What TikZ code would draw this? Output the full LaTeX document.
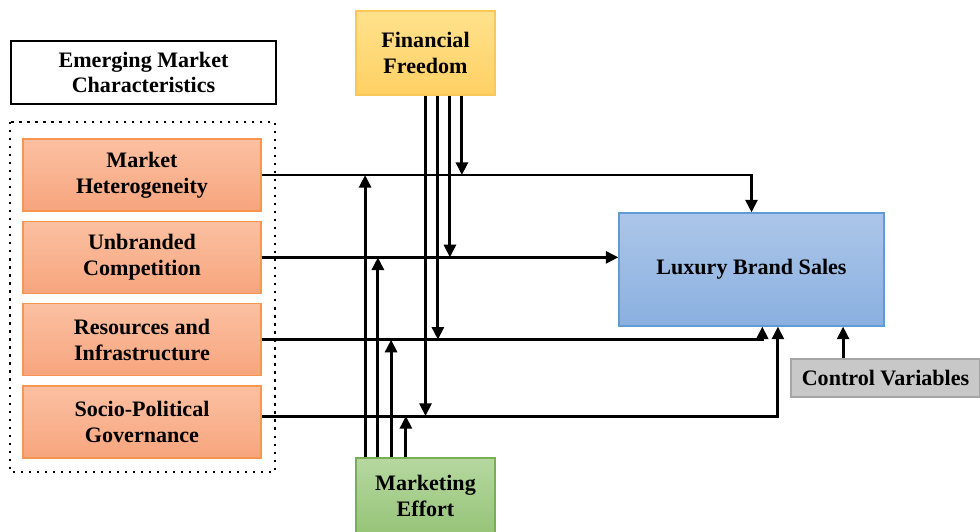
\documentclass[tikz,border=0pt]{standalone}
\usepackage{fontspec}
\setmainfont{Liberation Serif}
\usepackage{tikz}
\usetikzlibrary{positioning}
\usetikzlibrary{arrows.meta}

\definecolor{facline}{RGB}{247,150,80}
\definecolor{factop}{RGB}{251,192,162}
\definecolor{facbot}{RGB}{247,165,125}
\definecolor{ffline}{RGB}{250,200,90}
\definecolor{fftop}{RGB}{255,226,140}
\definecolor{ffbot}{RGB}{255,208,100}
\definecolor{meline}{RGB}{120,175,85}
\definecolor{metop}{RGB}{182,216,160}
\definecolor{mebot}{RGB}{150,196,120}
\definecolor{lbsline}{RGB}{95,155,213}
\definecolor{lbstop}{RGB}{172,198,233}
\definecolor{lbsbot}{RGB}{138,176,224}
\definecolor{cvline}{RGB}{165,165,165}
\definecolor{cvfill}{RGB}{200,200,200}

\begin{document}
\begin{tikzpicture}[x=0.025cm, y=-0.025cm,
  every node/.style={font=\fontsize{15.7}{18.4}\selectfont\bfseries, align=center},
  fac/.style={draw=facline, top color=factop, bottom color=facbot, line width=0.8pt,
    minimum width=5.95cm, minimum height=1.8cm},
  arr/.style={-{Triangle[length=9pt,width=8.5pt]}, line width=2.1pt}]
  \useasboundingbox (0,0) rectangle (980,532);

  \node[draw, line width=1.4pt, minimum width=6.625cm, minimum height=1.575cm] (emc) at (143.5,72.5) {Emerging Market\\Characteristics};
  \draw[line width=1.6pt, dash pattern=on 1.6pt off 4.1pt] (10,122) rectangle (275,472);

  \node[fac] (mh) at (142,175) {Market\\Heterogeneity};
  \node[fac, below=0.23cm of mh] (uc) {Unbranded\\Competition};
  \node[fac, below=0.23cm of uc] (ri) {Resources and\\Infrastructure};
  \node[fac, below=0.23cm of ri] (spg) {Socio-Political\\Governance};

  \node[draw=ffline, top color=fftop, bottom color=ffbot, line width=0.8pt, minimum width=3.475cm, minimum height=2.1cm] (ff) at (425.5,53) {Financial\\Freedom};
  \node[draw=meline, top color=metop, bottom color=mebot, line width=0.8pt, minimum width=3.475cm, minimum height=1.9cm] (me) at (425.5,496) {Marketing\\Effort};
  \node[draw=lbsline, top color=lbstop, bottom color=lbsbot, line width=0.8pt, minimum width=6.625cm, minimum height=2.825cm] (lbs) at (751.5,269.5) {Luxury Brand Sales};
  \node[draw=cvline, fill=cvfill, line width=0.8pt, minimum width=4.725cm, minimum height=0.95cm] (cv) at (885.5,378) {Control Variables};

  % direct effects
  \coordinate (ri-in) at ([xshift=0.27cm]lbs.south);
  \coordinate (spg-in) at ([xshift=0.66cm]lbs.south);
  \coordinate (spg-out) at ([yshift=0.15cm]spg.east);
  \coordinate (cv-out) at ([xshift=-1.06cm]cv.north);
  \draw[arr] (mh.east) -| (lbs.north);
  \draw[arr] (uc.east) -- (uc.east -| lbs.west);
  \draw[arr] (ri.east) -| (ri-in);
  \draw[arr] (spg-out) -| (spg-in);
  \draw[arr] (cv-out) -- (cv-out |- lbs.south);

  % financial freedom
  \coordinate (ff1) at ([xshift=0.91cm]ff.south);
  \coordinate (ff2) at ([xshift=0.61cm]ff.south);
  \coordinate (ff3) at ([xshift=0.31cm]ff.south);
  \coordinate (ff4) at ([xshift=0cm]ff.south);
  \draw[arr] (ff1) -- (ff1 |- mh.east);
  \draw[arr] (ff2) -- (ff2 |- uc.east);
  \draw[arr] (ff3) -- (ff3 |- ri.east);
  \draw[arr] (ff4) -- (ff4 |- spg-out);

  % marketing effort
  \coordinate (me1) at ([xshift=-1.51cm]me.north);
  \coordinate (me2) at ([xshift=-1.19cm]me.north);
  \coordinate (me3) at ([xshift=-0.86cm]me.north);
  \coordinate (me4) at ([xshift=-0.49cm]me.north);
  \draw[arr] (me1) -- (me1 |- mh.east);
  \draw[arr] (me2) -- (me2 |- uc.east);
  \draw[arr] (me3) -- (me3 |- ri.east);
  \draw[arr] (me4) -- (me4 |- spg-out);
\end{tikzpicture}
\end{document}
